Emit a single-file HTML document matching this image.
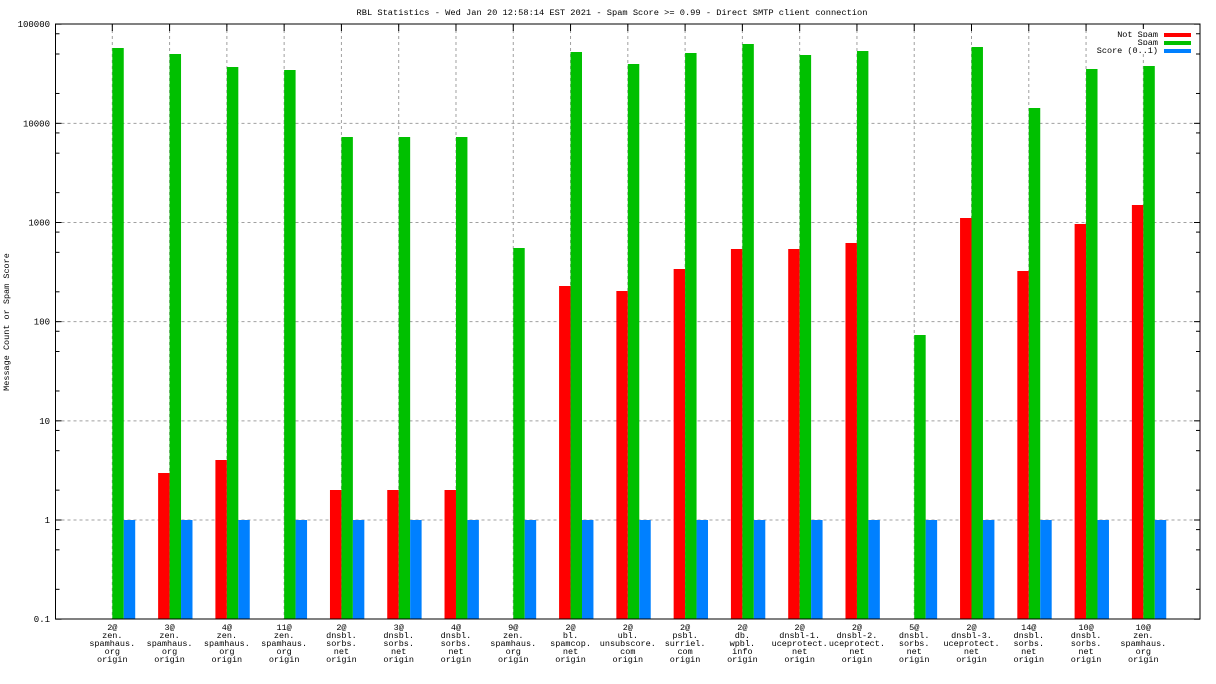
<!DOCTYPE html>
<html><head><meta charset="utf-8"><style>
html,body{margin:0;padding:0;background:#fff;}
svg{display:block;font-family:"Liberation Mono",monospace;}
</style></head><body>
<svg id="s" width="1216" height="684" xmlns="http://www.w3.org/2000/svg"></svg>
<script>
const s=document.getElementById('s');
let h='';
const L=55.5,R=1200,T=24,B=619;
const y1=520,dec=99.17;
const Y=v=>y1-dec*Math.log10(v);
// grid
for(let d=-1;d<=5;d++){const y=Y(Math.pow(10,d));
 if(d>-1&&d<5)h+=`<line x1="${L}" x2="${R}" y1="${y}" y2="${y}" stroke="#a0a0a0" stroke-dasharray="3,3"/>`;}
const sp=57.28,x0=112.3,w=sp/5;
for(let i=0;i<19;i++){const x=x0+i*sp;h+=`<line x1="${x}" x2="${x}" y1="${T}" y2="${B}" stroke="#a0a0a0" stroke-dasharray="3,3"/>`;}
const g=[48,54,67,70,137,137,137,248,52,64,53,44,55,51,335,47,108,69,66];
const r=[0,473,460,0,490,490,490,0,286,291,269,249,249,243,0,218,271,224,205];
const labs=[["2@","zen.","spamhaus.","org","origin"],["3@","zen.","spamhaus.","org","origin"],["4@","zen.","spamhaus.","org","origin"],["11@","zen.","spamhaus.","org","origin"],["2@","dnsbl.","sorbs.","net","origin"],["3@","dnsbl.","sorbs.","net","origin"],["4@","dnsbl.","sorbs.","net","origin"],["9@","zen.","spamhaus.","org","origin"],["2@","bl.","spamcop.","net","origin"],["2@","ubl.","unsubscore.","com","origin"],["2@","psbl.","surriel.","com","origin"],["2@","db.","wpbl.","info","origin"],["2@","dnsbl-1.","uceprotect.","net","origin"],["2@","dnsbl-2.","uceprotect.","net","origin"],["5@","dnsbl.","sorbs.","net","origin"],["2@","dnsbl-3.","uceprotect.","net","origin"],["14@","dnsbl.","sorbs.","net","origin"],["10@","dnsbl.","sorbs.","net","origin"],["10@","zen.","spamhaus.","org","origin"]];
for(let i=0;i<19;i++){const x=x0+i*sp;
 if(r[i])h+=`<rect x="${x-w}" y="${r[i]}" width="${w}" height="${B-r[i]}" fill="#ff0000"/>`;
 h+=`<rect x="${x}" y="${g[i]}" width="${w}" height="${B-g[i]}" fill="#00c000"/>`;
 h+=`<rect x="${x+w}" y="${y1}" width="${w}" height="${B-y1}" fill="#0080ff"/>`;
 h+=`<line x1="${x}" x2="${x}" y1="${T}" y2="${T+7}" stroke="#000"/>`;
 labs[i].forEach((t,k)=>{h+=`<text x="${x}" y="${630+k*8}" font-size="8.5" text-anchor="middle">${t}</text>`;});
}
// y ticks
for(let d=-1;d<=5;d++){const y=Y(Math.pow(10,d));
 h+=`<line x1="${L}" x2="${L+6}" y1="${y}" y2="${y}" stroke="#000"/><line x1="${R-6}" x2="${R}" y1="${y}" y2="${y}" stroke="#000"/>`;
 const lab=d<0?"0.1":String(Math.pow(10,d));
 h+=`<text x="50" y="${y+3}" font-size="9" text-anchor="end">${lab}</text>`;
 if(d<5)[2,5,8].forEach(m=>{const yy=Y(m*Math.pow(10,d));h+=`<line x1="${L}" x2="${L+4}" y1="${yy}" y2="${yy}" stroke="#000"/><line x1="${R-4}" x2="${R}" y1="${yy}" y2="${yy}" stroke="#000"/>`;});
}
h+=`<rect x="${L}" y="${T}" width="${R-L}" height="${B-T}" fill="none" stroke="#000"/>`;
// legend
[["Not Spam","#ff0000"],["Spam","#00c000"],["Score (0..1)","#0080ff"]].forEach((e,k)=>{
 h+=`<rect x="1100" y="${29+k*8}" width="64" height="8" fill="#fff"/>`;
 h+=`<text x="1158" y="${37+k*8}" font-size="8.5" text-anchor="end">${e[0]}</text>`;
 h+=`<rect x="1164" y="${33+k*8}" width="27" height="4" fill="${e[1]}"/>`;});
h+=`<text x="612" y="15" font-size="8.7" text-anchor="middle">RBL Statistics - Wed Jan 20 12:58:14 EST 2021 - Spam Score &gt;= 0.99 - Direct SMTP client connection</text>`;
h+=`<text transform="translate(9,322) rotate(-90)" font-size="8.5" text-anchor="middle">Message Count or Spam Score</text>`;
s.innerHTML=h;
</script>
</body></html>
